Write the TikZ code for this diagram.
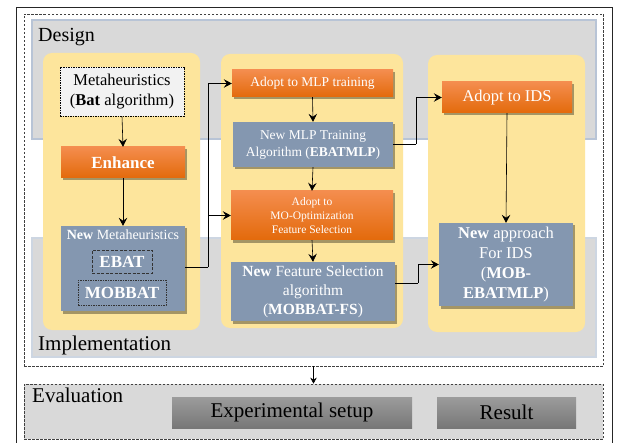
\documentclass[tikz,border=0pt]{standalone}
\usepackage{fontspec}
\setmainfont{Liberation Serif}
\usetikzlibrary{arrows.meta,shadows}
\definecolor{panelgray}{HTML}{D9D9D9}
\definecolor{paneledge}{HTML}{B8C4D6}
\definecolor{colyellow}{HTML}{FDE59C}
\definecolor{orangetop}{HTML}{F48D4E}
\definecolor{orangebot}{HTML}{E36A0B}
\definecolor{bluegray}{HTML}{8497B0}
\definecolor{metafill}{HTML}{F2F2F2}
\definecolor{btntop}{HTML}{9C9C9C}
\definecolor{btnbot}{HTML}{777777}
\newcommand{\fs}[2]{\fontsize{#1}{#2}\selectfont}
\tikzset{
  shade/.style={drop shadow={shadow xshift=2pt,shadow yshift=-2.5pt,opacity=0.35,fill=black}},
  orangebox/.style={top color=orangetop,bottom color=orangebot,draw=none,text=white,align=center,inner sep=0pt,shade},
  bluebox/.style={fill=bluegray,draw=none,text=white,align=center,inner sep=0pt,shade},
  btnbox/.style={top color=btntop,bottom color=btnbot,draw=none,text=black,align=center,inner sep=0pt},
  metabox/.style={fill=metafill,draw=black,line width=0.6pt,dash pattern=on 1.5pt off 1pt,align=center,inner sep=0pt},
  innerbox/.style={draw=black!80,line width=0.7pt,text=white,align=center,inner sep=0pt},
  arr/.style={-{Stealth[length=8pt,width=8.5pt,inset=3pt]},line width=0.6pt,black},
  conn/.style={line width=0.6pt,black},
  outerdash/.style={draw=black!75,line width=0.7pt,dash pattern=on 2.5pt off 1.5pt},
}
\begin{document}
\begin{tikzpicture}[x=1pt,y=-1pt]
\useasboundingbox (0,0) rectangle (617,443);
\fill[white] (0,0) rectangle (617,443);
% outer solid frame
\draw[line width=0.8pt,black!85] (16,443) -- (16,7) -- (612,7) -- (612,443);
% outer dashed box
\node[outerdash,minimum width=579pt,minimum height=352pt,inner sep=0pt] (outer) at (313.5,190) {};
% design / implementation panels
\fill[panelgray] (32,20) rectangle (596,139);
\draw[paneledge,line width=1.5pt] (32,20) rectangle (596,139);
\fill[panelgray] (32,238) rectangle (596,357);
\draw[paneledge!70,line width=1.2pt] (32,238) rectangle (596,357);
\node[anchor=base west,inner sep=0pt,font=\fs{20}{24}] (design) at (38,42) {Design};
\node[anchor=base west,inner sep=0pt,font=\fs{21}{25}] (impl) at (38,350) {Implementation};
% yellow columns
\fill[colyellow,rounded corners=9pt] (43,53) rectangle (200,330);
\fill[colyellow,rounded corners=9pt] (221,54) rectangle (403,328);
\fill[colyellow,rounded corners=9pt] (428,55) rectangle (585,332);
% column 1
\node[metabox,minimum width=124pt,minimum height=49pt,font=\fs{16.5}{20}] (meta) at (122,91.5) {Metaheuristics\\(\textbf{Bat} algorithm)};
\node[orangebox,minimum width=124pt,minimum height=31pt,font=\fs{17}{20}\bfseries] (enh) at (123,162.5) {Enhance};
\node[bluebox,minimum width=124pt,minimum height=85pt] (newmeta) at (123,268.5) {};
\node[inner sep=0pt,text=white,font=\fs{14}{17}] (newmetalbl) at (123,235) {\textbf{New} Metaheuristics};
\node[innerbox,dash pattern=on 3pt off 1.5pt,minimum width=60pt,minimum height=23pt,font=\fs{17}{20}\bfseries] (ebat) at (122,261.5) {EBAT};
\node[innerbox,dash pattern=on 1.5pt off 1pt,minimum width=88pt,minimum height=25pt,font=\fs{17}{20}\bfseries] (mobbat) at (122,292.5) {MOBBAT};
% column 2
\node[orangebox,minimum width=161pt,minimum height=27pt,font=\fs{13.5}{16}] (mlp) at (312.5,83.5) {Adopt to MLP training};
\node[bluebox,minimum width=160pt,minimum height=45pt,font=\fs{13.5}{17}] (newmlp) at (313,144.5) {New MLP Training\\Algorithm (\textbf{EBATMLP})};
\node[orangebox,minimum width=162pt,minimum height=49pt,font=\fs{11.5}{14}] (moopt) at (312,215.5) {Adopt to\\MO-Optimization\\Feature Selection};
\node[bluebox,minimum width=164pt,minimum height=59pt,font=\fs{15.5}{19}] (fsel) at (313,291.5) {\textbf{New} Feature Selection\\algorithm\\(\textbf{MOBBAT-FS})};
% column 3
\node[orangebox,minimum width=130pt,minimum height=31pt,font=\fs{16.5}{20}] (ids) at (507,97.5) {Adopt to IDS};
\node[bluebox,minimum width=134pt,minimum height=83pt,font=\fs{16.5}{20}] (appr) at (506,264.5) {\textbf{New} approach\\For IDS\\(\textbf{MOB-}\\\textbf{EBATMLP})};
% arrows inside columns
\draw[arr] (meta.south) -- (enh.north);
\draw[arr] (enh.south) -- (newmeta.north);
\draw[arr] (mlp.south) -- (newmlp.north);
\draw[arr] (newmlp.south) -- (moopt.north);
\draw[arr] (moopt.south) -- (fsel.north);
\draw[arr] (ids.south) -- (appr.north);
% cross-column connectors
\coordinate (j1) at (208,267);
\draw[conn] ([yshift=1.5pt]newmeta.east) -- (j1);
\draw[arr] (j1) |- (mlp.west);
\draw[arr] (j1) |- (moopt.west);
\coordinate (j2) at (416,144.5);
\draw[conn] (newmlp.east) -- (j2);
\draw[arr] (j2) |- (ids.west);
\coordinate (j3) at (418,283);
\draw[conn] ([yshift=8.5pt]fsel.east) -- (j3);
\draw[arr] (j3) |- (appr.west);
% evaluation
\node[outerdash,fill=panelgray,minimum width=579pt,minimum height=55pt,inner sep=0pt] (eval) at (313.5,411.5) {};
\draw[-{Stealth[length=6pt,width=6.5pt,inset=2pt]},line width=0.6pt] (outer.south) -- (eval.north);
\node[anchor=base west,inner sep=0pt,font=\fs{21}{25}] (evallbl) at (32,402) {Evaluation};
\node[btnbox,minimum width=240pt,minimum height=31pt,font=\fs{21}{25}] (exp) at (292,412.5) {Experimental setup};
\node[btnbox,minimum width=139pt,minimum height=31pt,font=\fs{21}{25}] (res) at (506.5,412.5) {Result};
\end{tikzpicture}
\end{document}
